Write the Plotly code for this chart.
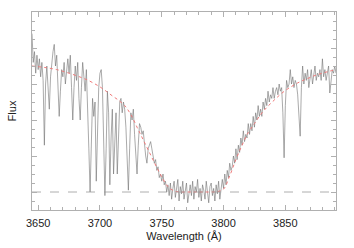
import numpy as np
import plotly.graph_objects as go

# Observed spectrum, 1 Å sampling starting at 3645 Å
wave_start = 3645
flux = [
    4.4, 3.6, 3.9, 3.3, 3.8, 3.4, 3.7, 3.2, 3.6, 3.1,
    1.3, 3.0, 3.5, 2.9, 2.3, 3.2, 3.6, 3.9, 4.1, 3.5,
    3.8, 3.0, 2.1, 2.8, 3.4, 3.2, 3.6, 3.0, 3.5, 3.7,
    3.3, 3.8, 2.9, 2.0, 2.9, 3.5, 3.1, 3.6, 2.6, 2.0,
    2.9, 3.6, 3.2, 2.8, 3.4, 2.5, 1.2, 0.0, 1.5, 2.6,
    2.1, 2.5, 0.3, 1.6, 2.9, 3.3, 3.4, 2.9, 1.4, -0.1,
    1.2, 2.8, 2.2, 0.2, 1.5, 2.3, 0.5, 1.4, 2.2, 0.5,
    1.7, 2.5, 2.6, 2.2, 2.5, 2.3, 1.8, 0.9, 0.05, 1.2,
    2.2, 2.0, 2.3, 1.6, 1.0, 0.5, 1.3, 1.9, 1.8, 1.6,
    1.7, 1.3, 1.0, 0.8, 1.2, 1.3, 1.4, 1.2, 1.0, 0.8,
    0.9, 0.6, 0.7, 0.4, 0.5, 0.3, 0.5, 0.2, 0.3, 0.0,
    0.2, -0.1, 0.25, -0.2, 0.1, 0.3, -0.15, 0.05, 0.35, -0.25,
    0.15, -0.05, 0.3, -0.2, 0.1, 0.25, -0.3, 0.05, 0.2, -0.1,
    0.3, -0.2, 0.15, 0.0, 0.35, -0.15, 0.1, -0.25, 0.2, 0.05,
    -0.2, 0.3, 0.0, -0.3, 0.15, 0.25, -0.1, 0.1, -0.25, 0.2,
    -0.05, 0.3, -0.2, 0.1, 0.35,
    0.1, 0.5, 0.2, 0.6, 0.4, 0.8, 0.6, 0.7, 1.0, 0.8,
    1.2, 0.9, 1.3, 1.1, 1.5, 1.3, 1.7, 1.4, 1.6, 1.5,
    1.9, 1.6, 1.9, 1.7, 2.1, 1.8, 2.2, 2.0, 2.4, 2.1,
    2.3, 2.1, 2.5, 2.3, 2.6, 2.4, 2.8, 2.5, 2.7, 2.6,
    2.9, 2.6, 2.8, 2.9, 2.7, 3.0, 2.8, 2.9, 2.2, 0.95,
    2.4, 3.1, 2.9, 3.0, 3.4, 3.0, 3.2, 2.9, 3.1, 3.0,
    2.7, 2.2, 1.55, 2.9, 3.5, 3.0, 3.3, 3.1, 3.4, 2.9,
    3.2, 3.4, 3.0, 3.3, 3.5, 3.1, 3.3, 3.2, 3.4, 3.1,
    3.7, 3.2, 3.4, 3.1, 3.3, 3.5, 2.75, 3.2, 3.4, 3.3,
    3.5, 3.3,
]
wave = [wave_start + i for i in range(len(flux))]

# Model (red dotted) read at selected wavelengths
model_wave = [3645, 3655, 3665, 3675, 3685, 3690, 3695, 3700, 3705, 3710,
              3715, 3720, 3725, 3730, 3735, 3740, 3745, 3750, 3755, 3760,
              3765, 3770, 3775, 3780, 3785, 3790, 3795, 3800, 3805, 3810,
              3815, 3820, 3825, 3830, 3835, 3840, 3845, 3850, 3855, 3860,
              3865, 3870, 3875, 3880, 3885, 3891]
model_flux = [3.5, 3.46, 3.4, 3.3, 3.18, 3.11, 3.02, 2.92, 2.8, 2.67,
              2.55, 2.4, 2.15, 1.8, 1.45, 1.1, 0.75, 0.42, 0.15, 0.03,
              0.0, 0.0, 0.0, 0.0, 0.0, 0.0, 0.01, 0.08, 0.45, 0.9,
              1.3, 1.65, 1.9, 2.15, 2.35, 2.52, 2.68, 2.82, 2.93, 3.03,
              3.11, 3.18, 3.25, 3.3, 3.35, 3.4]

x_range = [3645, 3891]
y_range = [-0.5, 5.0]
zero_level = 0.0

fig = go.Figure()
fig.add_trace(go.Scatter(x=wave, y=flux, mode="lines",
                         line=dict(color="#707070", width=0.6),
                         showlegend=False, hoverinfo="skip"))
fig.add_trace(go.Scatter(x=model_wave, y=model_flux, mode="lines",
                         line=dict(color="#f07a7a", width=1, dash="dot", shape="spline"),
                         showlegend=False, hoverinfo="skip"))
fig.add_trace(go.Scatter(x=x_range, y=[zero_level, zero_level], mode="lines",
                         line=dict(color="#999999", width=0.8, dash="dash"),
                         showlegend=False, hoverinfo="skip"))

axis_col = "#b0b0b0"
fig.update_layout(
    width=354, height=248,
    margin=dict(l=32, r=18, t=12, b=38),
    paper_bgcolor="white", plot_bgcolor="white",
    font=dict(family="Liberation Sans, Arial, sans-serif", size=11, color="#222222"),
    xaxis=dict(range=x_range, tickmode="linear", tick0=3650, dtick=50,
               ticks="inside", ticklen=5, tickcolor=axis_col, tickwidth=1,
               showline=True, linecolor=axis_col, linewidth=1, mirror="allticks",
               showgrid=False, zeroline=False, automargin=False,
               ticklabelstandoff=3,
               minor=dict(dtick=10, ticks="inside", ticklen=3, tickcolor=axis_col, showgrid=False),
               title=dict(text="Wavelength (Å)", standoff=4, font=dict(size=11)),
               tickfont=dict(size=11)),
    yaxis=dict(range=y_range, tickmode="linear", tick0=0, dtick=1,
               ticks="inside", ticklen=5, tickcolor=axis_col, tickwidth=1,
               showline=True, linecolor=axis_col, linewidth=1, mirror="allticks",
               showgrid=False, zeroline=False, showticklabels=False, automargin=False,
               minor=dict(dtick=0.25, ticks="inside", ticklen=3, tickcolor=axis_col, showgrid=False),
               title=dict(text="Flux", standoff=12, font=dict(size=11))),
)

fig.write_html("out.html", config={"displayModeBar": False},
               post_script="document.body.style.margin='0px';")
